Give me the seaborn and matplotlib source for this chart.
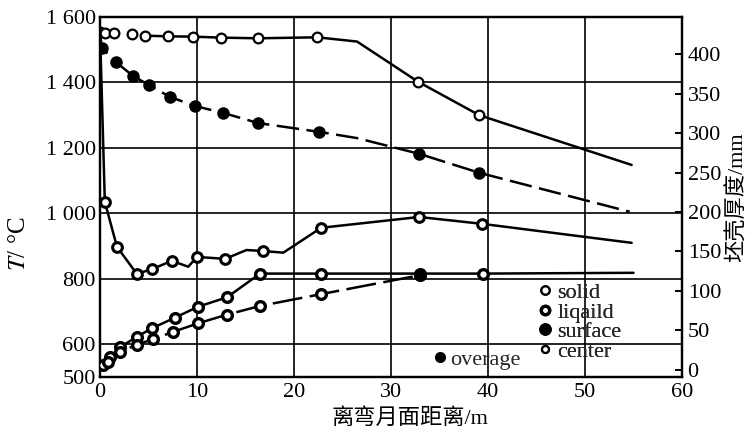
import numpy as np
import seaborn as sns
import matplotlib.pyplot as plt
from matplotlib.lines import Line2D

# distance from meniscus (m) and temperatures (°C)
center_x = [0, 0.5, 1.4, 3.3, 4.6, 7.0, 9.6, 12.5, 16.3, 22.4, 26.5, 32.8, 39.1, 54.8]
center_t = [1555, 1552, 1551, 1547, 1543, 1541, 1540, 1537, 1535, 1538, 1525, 1402, 1300, 1148]
center_mark = [True, True, True, True, True, True, True, True, True, True, False, True, True, False]

avg_x = [0, 0.2, 1.65, 3.4, 5.05, 7.2, 9.8, 12.7, 16.3, 22.6, 26.5, 32.9, 39.1, 54.6]
avg_t = [1550, 1505, 1462, 1420, 1392, 1356, 1328, 1307, 1276, 1249, 1230, 1182, 1124, 1005]
avg_mark = [False, True, True, True, True, True, True, True, True, True, False, True, True, False]

surf_x = [0, 0.5, 1.75, 3.8, 5.4, 7.4, 9.1, 10.0, 12.9, 15.1, 16.8, 18.9, 22.8, 32.9, 39.4, 54.8]
surf_t = [1560, 1035, 898, 815, 830, 855, 837, 867, 861, 888, 885, 880, 956, 989, 968, 910]
surf_mark = [False, True, True, True, True, True, False, True, True, False, True, False, True, True, True, False]

# shell thickness (mm)
solid_x = [0, 0.3, 1.0, 2.1, 3.8, 5.4, 7.7, 10.1, 13.1, 16.5, 22.8, 33.0, 39.5, 55.0]
solid_d = [0, 6, 16, 29, 42, 53, 66, 80, 92, 122, 122, 122, 122, 123]
solid_mark = [False, True, True, True, True, True, True, True, True, True, True, True, True, False]

liq_x = [0, 0.8, 2.1, 3.8, 5.5, 7.5, 10.1, 13.1, 16.5, 22.8, 33.0]
liq_d = [0, 10, 23, 32, 39, 48, 59, 70, 81, 96, 120]

x_ticks = [0, 10, 20, 30, 40, 50, 60]
t_ticks = [500, 600, 800, 1000, 1200, 1400, 1600]
t_labels = ["500", "600", "800", "1 000", "1 200", "1 400", "1 600"]
d_ticks = [0, 50, 100, 150, 200, 250, 300, 350, 400]

sns.set_theme(style="white")
plt.rcParams["font.family"] = ["Liberation Serif", "Noto Sans CJK SC", "DejaVu Sans"]
plt.rcParams["mathtext.fontset"] = "stix"

fig = plt.figure(figsize=(7.54, 4.33), dpi=100)
ax = fig.add_axes([0.1326, 0.1293, 0.772, 0.8314])
ax2 = ax.twinx()

k = "black"
lw = 1.8

# grid
for gx in x_ticks[1:-1]:
    ax.axvline(gx, color=k, lw=1.2, zorder=0)
for gy in [600, 800, 1000, 1200, 1400]:
    ax.axhline(gy, color=k, lw=1.2, zorder=0)

def pts(xs, ys, mask):
    return [a for a, m in zip(xs, mask) if m], [b for b, m in zip(ys, mask) if m]

# center: first markers stand alone, line starts at 4.6 m
sns.lineplot(x=center_x[4:], y=center_t[4:], ax=ax, color=k, lw=lw, sort=False)
cx, ct = pts(center_x, center_t, center_mark)
ax.plot(cx, ct, ls="none", marker="o", ms=7, mfc="white", mec=k, mew=1.6, zorder=4)

# average
sns.lineplot(x=avg_x, y=avg_t, ax=ax, color=k, lw=lw, sort=False, linestyle=(0, (9, 3)))
axx, att = pts(avg_x, avg_t, avg_mark)
ax.plot(axx, att, ls="none", marker="o", ms=8, mfc=k, mec=k, zorder=4)

# surface
sns.lineplot(x=surf_x, y=surf_t, ax=ax, color=k, lw=lw, sort=False)
sx, st = pts(surf_x, surf_t, surf_mark)
ax.plot(sx, st, ls="none", marker="o", ms=7, mfc="white", mec=k, mew=2.2, zorder=4)

# shell thickness
sns.lineplot(x=solid_x, y=solid_d, ax=ax2, color=k, lw=lw, sort=False)
dx, dd = pts(solid_x, solid_d, solid_mark)
ax2.plot(dx, dd, ls="none", marker="o", ms=7, mfc="white", mec=k, mew=2.4, zorder=4)

sns.lineplot(x=liq_x, y=liq_d, ax=ax2, color=k, lw=lw, sort=False, linestyle=(0, (12, 3)))
ax2.plot(liq_x[1:], liq_d[1:], ls="none", marker="o", ms=7, mfc="white", mec=k, mew=2.4, zorder=4)
ax2.plot([liq_x[-1]], [liq_d[-1]], ls="none", marker="o", ms=8, mfc=k, mec=k, zorder=5)

ax.set_xlim(0, 60)
ax.set_ylim(500, 1600)
ax2.set_ylim(-9, 447)
ax.set_xticks(x_ticks)
ax.set_xticklabels([str(v) for v in x_ticks])
ax.set_yticks(t_ticks)
ax.set_yticklabels(t_labels)
ax2.set_yticks(d_ticks)
ax2.set_yticklabels([str(v) for v in d_ticks])

for a in (ax, ax2):
    for s in a.spines.values():
        s.set_color(k)
        s.set_linewidth(1.6)
ax.tick_params(axis="both", labelsize=16, colors=k, length=0, pad=3)
ax2.tick_params(axis="y", labelsize=16, colors=k, direction="in", length=5, width=1.4, pad=4)
ax.tick_params(axis="x", pad=4)

ax.set_xlabel("离弯月面距离/m", fontsize=16, color=k)
ax.xaxis.set_label_coords(0.533, -0.085)
ax.set_ylabel("$T$/ °C", fontsize=18, color=k)
ax.yaxis.set_label_coords(-0.12, 0.37)
ax2.set_ylabel("坯壳厚度/mm", fontsize=16, color=k, labelpad=4, rotation=90)

def h(**kw):
    return Line2D([], [], ls="none", color=k, **kw)

leg = ax.legend(
    handles=[h(marker="o", ms=6, mfc="white", mew=1.6),
             h(marker="o", ms=6, mfc="white", mew=2.4),
             h(marker="o", ms=8, mfc=k),
             h(marker="o", ms=5, mfc="white", mew=1.6)],
    labels=["solid", "liqaild", "surface", "center"],
    loc="upper left", bbox_to_anchor=(0.755, 0.262), frameon=False,
    fontsize=16, handlelength=0.5, handletextpad=0.3, labelspacing=-0.05,
    borderpad=0, borderaxespad=0)
ax.add_artist(leg)
ax2.legend(handles=[h(marker="o", ms=7, mfc=k)], labels=["overage"],
           loc="lower left", bbox_to_anchor=(0.575, 0.02), frameon=False,
           fontsize=16, handlelength=0.5, handletextpad=0.2,
           borderpad=0, borderaxespad=0)

fig.savefig("out.png", dpi=100)
